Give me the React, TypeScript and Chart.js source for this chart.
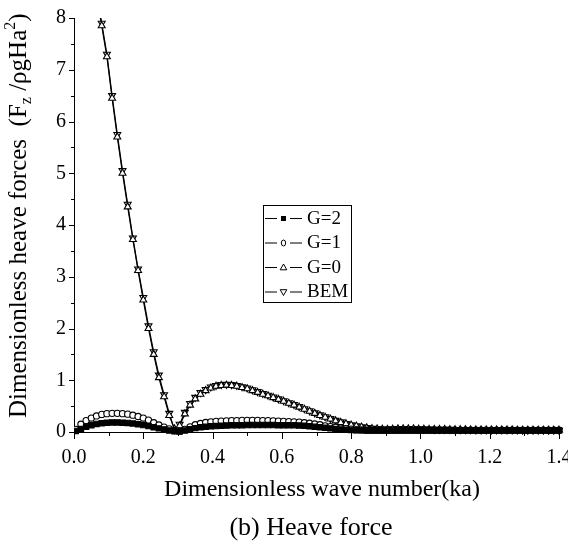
import React, { useEffect, useRef } from 'react';
import { Chart, registerables } from 'chart.js';

Chart.register(...registerables);

// Dimensionless wave number ka (shared sampling of all four series)
const KA = [
  0.005, 0.02, 0.035, 0.05, 0.065, 0.08, 0.095, 0.11, 0.125, 0.14,
  0.155, 0.17, 0.185, 0.2, 0.215, 0.23, 0.245, 0.26, 0.275, 0.29,
  0.305, 0.32, 0.335, 0.35, 0.365, 0.38, 0.395, 0.41, 0.425, 0.44,
  0.455, 0.47, 0.485, 0.5, 0.515, 0.53, 0.545, 0.56, 0.575, 0.59,
  0.605, 0.62, 0.635, 0.65, 0.665, 0.68, 0.695, 0.71, 0.725, 0.74,
  0.755, 0.77, 0.785, 0.8, 0.815, 0.83, 0.845, 0.86, 0.875, 0.89,
  0.905, 0.92, 0.935, 0.95, 0.965, 0.98, 0.995, 1.01, 1.025, 1.04,
  1.055, 1.07, 1.085, 1.1, 1.115, 1.13, 1.145, 1.16, 1.175, 1.19,
  1.205, 1.22, 1.235, 1.25, 1.265, 1.28, 1.295, 1.31, 1.325, 1.34,
  1.355, 1.37, 1.385, 1.4,
];

// Heave force, G = 2
const G2 = [
  0.02, 0.06, 0.1, 0.13, 0.155, 0.17, 0.18, 0.185, 0.185, 0.18,
  0.175, 0.165, 0.15, 0.135, 0.115, 0.09, 0.07, 0.05, 0.03, 0.015,
  0.01, 0.03, 0.055, 0.075, 0.09, 0.1, 0.11, 0.115, 0.12, 0.125,
  0.13, 0.13, 0.13, 0.135, 0.135, 0.135, 0.135, 0.135, 0.135, 0.13,
  0.13, 0.13, 0.13, 0.125, 0.12, 0.11, 0.1, 0.09, 0.08, 0.07,
  0.06, 0.05, 0.045, 0.04, 0.035, 0.035, 0.03, 0.03, 0.03, 0.03,
  0.03, 0.03, 0.03, 0.03, 0.03, 0.03, 0.03, 0.03, 0.03, 0.03,
  0.03, 0.03, 0.03, 0.03, 0.03, 0.03, 0.03, 0.03, 0.03, 0.03,
  0.03, 0.03, 0.03, 0.03, 0.03, 0.03, 0.03, 0.03, 0.03, 0.03,
  0.03, 0.03, 0.03, 0.03,
];

// Heave force, G = 1
const G1 = [
  0.05, 0.15, 0.22, 0.27, 0.31, 0.34, 0.355, 0.36, 0.36, 0.355,
  0.345, 0.325, 0.3, 0.27, 0.23, 0.18, 0.135, 0.095, 0.06, 0.03,
  0.02, 0.05, 0.1, 0.14, 0.165, 0.185, 0.195, 0.205, 0.21, 0.215,
  0.22, 0.22, 0.225, 0.225, 0.225, 0.225, 0.22, 0.22, 0.215, 0.21,
  0.205, 0.2, 0.195, 0.19, 0.18, 0.17, 0.155, 0.14, 0.12, 0.105,
  0.09, 0.075, 0.065, 0.055, 0.045, 0.04, 0.035, 0.035, 0.035, 0.035,
  0.035, 0.035, 0.035, 0.035, 0.035, 0.035, 0.035, 0.035, 0.035, 0.035,
  0.035, 0.035, 0.035, 0.035, 0.035, 0.035, 0.035, 0.035, 0.035, 0.035,
  0.035, 0.035, 0.035, 0.035, 0.035, 0.035, 0.035, 0.035, 0.035, 0.035,
  0.035, 0.035, 0.035, 0.035,
];

// Heave force, G = 0
const G0 = [
  null, null, null, null, 8.45, 7.85, 7.25, 6.45, 5.7, 5.0,
  4.35, 3.72, 3.12, 2.55, 2.0, 1.5, 1.05, 0.68, 0.32, 0.06,
  0.12, 0.35, 0.52, 0.64, 0.73, 0.8, 0.85, 0.885, 0.9, 0.905,
  0.9, 0.885, 0.86, 0.835, 0.8, 0.765, 0.73, 0.7, 0.665, 0.63,
  0.595, 0.555, 0.52, 0.48, 0.44, 0.4, 0.36, 0.32, 0.285, 0.25,
  0.215, 0.185, 0.16, 0.135, 0.115, 0.095, 0.08, 0.065, 0.06, 0.055,
  0.05, 0.055, 0.06, 0.06, 0.06, 0.06, 0.055, 0.055, 0.05, 0.05,
  0.05, 0.05, 0.045, 0.045, 0.045, 0.045, 0.04, 0.04, 0.04, 0.04,
  0.04, 0.04, 0.04, 0.04, 0.04, 0.035, 0.035, 0.035, 0.035, 0.035,
  0.035, 0.035, 0.035, 0.035,
];

// Heave force, boundary element method
const BEM = [
  null, null, null, null, 8.5, 7.9, 7.3, 6.5, 5.75, 5.05,
  4.4, 3.75, 3.15, 2.6, 2.05, 1.55, 1.1, 0.72, 0.36, 0.04,
  0.15, 0.38, 0.55, 0.67, 0.76, 0.82, 0.87, 0.9, 0.915, 0.92,
  0.915, 0.9, 0.875, 0.85, 0.815, 0.78, 0.745, 0.71, 0.675, 0.64,
  0.605, 0.565, 0.53, 0.49, 0.45, 0.41, 0.37, 0.33, 0.295, 0.26,
  0.225, 0.195, 0.165, 0.14, 0.12, 0.1, 0.085, 0.07, 0.06, 0.055,
  0.055, 0.06, 0.065, 0.065, 0.065, 0.06, 0.06, 0.055, 0.055, 0.05,
  0.05, 0.05, 0.05, 0.045, 0.045, 0.045, 0.045, 0.04, 0.04, 0.04,
  0.04, 0.04, 0.04, 0.04, 0.04, 0.04, 0.035, 0.035, 0.035, 0.035,
  0.035, 0.035, 0.035, 0.035,
];

const SERIES_LABELS = ['G=2', 'G=1', 'G=0', 'BEM'];
const X_MAJOR = [0, 0.2, 0.4, 0.6, 0.8, 1.0, 1.2, 1.4];
const X_MINOR = [0.1, 0.3, 0.5, 0.7, 0.9, 1.1, 1.3];
const Y_MAJOR = [0, 1, 2, 3, 4, 5, 6, 7, 8];
const Y_MINOR = [0.5, 1.5, 2.5, 3.5, 4.5, 5.5, 6.5, 7.5];

const SERIF = '"Liberation Serif", "Times New Roman", serif';

type MarkerKind = 'square' | 'circle' | 'up' | 'down';

function drawMarker(ctx: CanvasRenderingContext2D, kind: MarkerKind, x: number, y: number) {
  ctx.save();
  ctx.lineWidth = 1;
  ctx.strokeStyle = '#000';
  ctx.beginPath();
  if (kind === 'square') {
    ctx.fillStyle = '#000';
    ctx.rect(x - 2.5, y - 2.5, 5, 5);
    ctx.fill();
  } else if (kind === 'circle') {
    ctx.fillStyle = '#fff';
    ctx.ellipse(x, y, 2.2, 3, 0, 0, Math.PI * 2);
    ctx.fill();
    ctx.stroke();
  } else {
    // apex above the centre for 'up', below it for 'down'
    const s = kind === 'up' ? 1 : -1;
    ctx.fillStyle = '#fff';
    ctx.moveTo(x, y - s * 3.5);
    ctx.lineTo(x - 3.3, y + s * 2.3);
    ctx.lineTo(x + 3.3, y + s * 2.3);
    ctx.closePath();
    ctx.fill();
    ctx.stroke();
  }
  ctx.restore();
}

const decorations = {
  id: 'heaveDecorations',
  afterDraw(chart: any) {
    const { ctx, scales } = chart;
    const xs = scales.x;
    const ys = scales.y;
    const area = chart.chartArea;
    ctx.save();
    ctx.strokeStyle = '#000';
    ctx.lineWidth = 1;

    // outward tick marks
    ctx.beginPath();
    X_MAJOR.forEach((v) => {
      const px = Math.round(xs.getPixelForValue(v)) + 0.5;
      ctx.moveTo(px, area.bottom);
      ctx.lineTo(px, area.bottom + 7);
    });
    X_MINOR.forEach((v) => {
      const px = Math.round(xs.getPixelForValue(v)) + 0.5;
      ctx.moveTo(px, area.bottom);
      ctx.lineTo(px, area.bottom + 4);
    });
    Y_MAJOR.forEach((v) => {
      const py = Math.round(ys.getPixelForValue(v)) + 0.5;
      ctx.moveTo(area.left, py);
      ctx.lineTo(area.left - 5, py);
    });
    Y_MINOR.forEach((v) => {
      const py = Math.round(ys.getPixelForValue(v)) + 0.5;
      ctx.moveTo(area.left, py);
      ctx.lineTo(area.left - 3, py);
    });
    ctx.stroke();

    // legend box
    const bx = 263.5, by = 205.5, bw = 88, bh = 97;
    ctx.fillStyle = '#fff';
    ctx.fillRect(bx, by, bw, bh);
    ctx.strokeRect(bx, by, bw, bh);
    const kinds: MarkerKind[] = ['square', 'circle', 'up', 'down'];
    ctx.font = `19px ${SERIF}`;
    ctx.textAlign = 'left';
    ctx.textBaseline = 'middle';
    SERIES_LABELS.forEach((label, i) => {
      const ry = 218 + i * 24.5;
      ctx.beginPath();
      ctx.moveTo(265, ry + 0.5);
      ctx.lineTo(277, ry + 0.5);
      ctx.moveTo(290, ry + 0.5);
      ctx.lineTo(302, ry + 0.5);
      ctx.stroke();
      drawMarker(ctx, kinds[i], 283.5, ry + 0.5);
      ctx.fillStyle = '#000';
      ctx.fillText(label, 307, ry + 1);
    });

    // y axis title with subscript and superscript
    ctx.save();
    ctx.translate(26, 418);
    ctx.rotate(-Math.PI / 2);
    ctx.textAlign = 'left';
    ctx.textBaseline = 'alphabetic';
    ctx.fillStyle = '#000';
    let cx = 0;
    const seg = (text: string, size: number, dy: number) => {
      ctx.font = `${size}px ${SERIF}`;
      ctx.fillText(text, cx, dy);
      cx += ctx.measureText(text).width;
    };
    seg('Dimensionless heave forces', 25, 0);
    seg('  (F', 25, 0);
    seg('z', 16, 5);
    seg(' /ρgHa', 25, 0);
    seg('2', 16, -11);
    seg(')', 25, 0);
    ctx.restore();

    // x axis title and caption
    ctx.fillStyle = '#000';
    ctx.textAlign = 'center';
    ctx.textBaseline = 'alphabetic';
    ctx.font = `24px ${SERIF}`;
    ctx.fillText('Dimensionless wave number(ka)', 322, 496);
    ctx.font = `26px ${SERIF}`;
    ctx.fillText('(b) Heave force', 311, 535);
    ctx.restore();
  },
};

function points(values: (number | null)[]) {
  return KA.map((x, i) => ({ x, y: values[i] }));
}

export default function App() {
  const canvasRef = useRef<HTMLCanvasElement | null>(null);

  useEffect(() => {
    const canvas = canvasRef.current;
    if (!canvas) return;
    const clip = { left: 0, top: 0, right: 6, bottom: 6 };
    const common = {
      borderColor: '#000',
      borderWidth: 1.2,
      pointBorderColor: '#000',
      pointBorderWidth: 1.1,
      tension: 0,
      clip,
    };
    const chart = new Chart(canvas, {
      type: 'line',
      data: {
        datasets: [
          { ...common, label: SERIES_LABELS[0], data: points(G2), pointStyle: 'rect', pointRadius: 3.8, pointBackgroundColor: '#000' },
          { ...common, label: SERIES_LABELS[1], data: points(G1), pointStyle: 'circle', pointRadius: 3.1, pointBackgroundColor: '#fff' },
          { ...common, label: SERIES_LABELS[2], data: points(G0), pointStyle: 'triangle', pointRadius: 4, pointBackgroundColor: '#fff' },
          { ...common, label: SERIES_LABELS[3], data: points(BEM), pointStyle: 'triangle', pointRotation: 180, pointRadius: 4, pointBackgroundColor: '#fff' },
        ] as any,
      },
      options: {
        animation: false,
        responsive: false,
        events: [],
        layout: { padding: { left: 0, top: 18, right: 9, bottom: 0 } },
        plugins: { legend: { display: false }, tooltip: { enabled: false } },
        scales: {
          x: {
            type: 'linear',
            min: 0,
            max: 1.4,
            border: { display: true, color: '#000', width: 1 },
            grid: { display: true, drawOnChartArea: false, drawTicks: false },
            ticks: {
              stepSize: 0.2,
              autoSkip: false,
              maxRotation: 0,
              padding: 14,
              color: '#000',
              font: { family: SERIF, size: 20 },
              callback: (v: any) => Number(v).toFixed(1),
            },
            afterFit: (s: any) => {
              s.height = 109;
              s.paddingLeft = 0;
              s.paddingRight = 0;
            },
          },
          y: {
            type: 'linear',
            min: 0,
            max: 8,
            border: { display: true, color: '#000', width: 1 },
            grid: { display: true, drawOnChartArea: false, drawTicks: false },
            ticks: {
              stepSize: 1,
              padding: 8,
              color: '#000',
              font: { family: SERIF, size: 20 },
            },
            afterFit: (s: any) => {
              s.width = 74;
              s.paddingTop = 0;
              s.paddingBottom = 0;
            },
          },
        },
      } as any,
      plugins: [decorations],
    });
    return () => chart.destroy();
  }, []);

  return (
    <div style={{ position: 'absolute', left: 0, top: 0, width: 568, height: 541, background: '#fff' }}>
      <canvas ref={canvasRef} width={568} height={541} style={{ display: 'block', width: 568, height: 541 }} />
    </div>
  );
}
